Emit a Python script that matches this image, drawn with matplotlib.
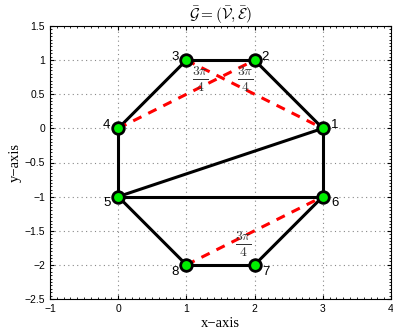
import matplotlib
matplotlib.use("Agg")
import matplotlib.pyplot as plt
from matplotlib.ticker import MultipleLocator

node_ids = [1, 2, 3, 4, 5, 6, 7, 8]
node_x = [3, 2, 1, 0, 0, 3, 2, 1]
node_y = [0, 1, 1, 0, -1, -1, -2, -2]
solid_edges = [(3, 2), (2, 1), (1, 6), (6, 7), (7, 8), (8, 5), (5, 4), (4, 3), (5, 1), (5, 6)]
dashed_edges = [(4, 2), (3, 1), (8, 6)]
angle_labels = [r"$\frac{3\pi}{4}$"] * 3
angle_x = [1.2, 1.87, 1.83]
angle_y = [0.72, 0.72, -1.7]
label_dx = [0.18, 0.15, -0.17, -0.17, -0.17, 0.18, 0.17, -0.17]
label_dy = [0.05, 0.05, 0.05, 0.05, -0.1, -0.1, -0.1, -0.1]
xticks = [-1, 0, 1, 2, 3, 4]
yticks = [-2.5, -2, -1.5, -1, -0.5, 0, 0.5, 1, 1.5]

def fmt(v):
    s = ('%g' % v)
    return s.replace('-', '\u2212')

plt.rcParams['mathtext.fontset'] = 'cm'
fig = plt.figure(figsize=(3.93, 3.29), dpi=100)
ax = fig.add_axes([50/393, 30/329, 341/393, 273/329])

pos = {n: (x, y) for n, x, y in zip(node_ids, node_x, node_y)}
for a, b in solid_edges:
    ax.plot([pos[a][0], pos[b][0]], [pos[a][1], pos[b][1]], color='black', lw=2.2, zorder=2)
for a, b in dashed_edges:
    ax.plot([pos[a][0], pos[b][0]], [pos[a][1], pos[b][1]], color='red', lw=2.2,
            ls=(0, (3, 2.5)), zorder=3)
ax.scatter(node_x, node_y, s=70, c='#00ee00', edgecolors='black', linewidths=2, zorder=4)
for n, x, y, dx, dy in zip(node_ids, node_x, node_y, label_dx, label_dy):
    ax.text(x + dx, y + dy, str(n), ha='center', va='center', fontsize=9.5,
            family='Liberation Sans', zorder=5)
for t, x, y in zip(angle_labels, angle_x, angle_y):
    ax.text(x, y, t, ha='center', va='center', fontsize=14, color='#333333', zorder=5)

ax.set_xlim(-1, 4)
ax.set_ylim(-2.5, 1.5)
ax.set_xticks(xticks, [fmt(v) for v in xticks], family='Liberation Sans')
ax.set_yticks(yticks, [fmt(v) for v in yticks], family='Liberation Sans')
ax.xaxis.set_minor_locator(MultipleLocator(0.1))
ax.yaxis.set_minor_locator(MultipleLocator(0.05))
ax.grid(True, which='major', ls=(0, (1, 3)), color='#888888', lw=0.8)
ax.tick_params(which='both', direction='in', top=True, right=True, labelsize=7.5)
ax.tick_params(which='major', length=3)
ax.tick_params(which='minor', length=1.5)
ax.set_xlabel('x\u2212axis', family='Liberation Serif', fontsize=10.5, labelpad=2)
ax.set_ylabel('y\u2212axis', family='Liberation Serif', fontsize=10.5, labelpad=2)
ax.set_title(r'$\bar{\mathcal{G}}=(\bar{\mathcal{V}},\bar{\mathcal{E}})$', fontsize=11, pad=4)
fig.savefig('out.png', dpi=100)
